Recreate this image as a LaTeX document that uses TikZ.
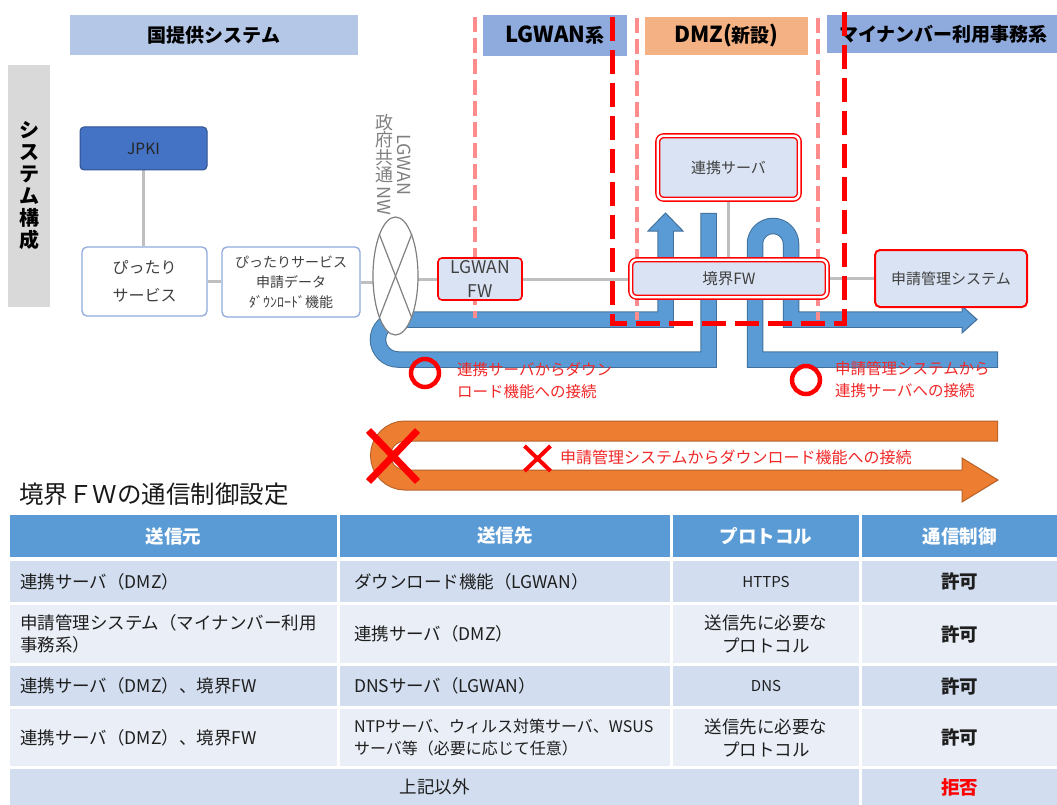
\documentclass[tikz,border=0pt]{standalone}
\usepackage{fontspec}
\setmainfont{Noto Sans CJK JP}
\usepackage{graphicx}
\usetikzlibrary{shapes.geometric,shapes.misc,calc}
\definecolor{hdrA}{HTML}{B4C7E7}
\definecolor{hdrB}{HTML}{8FAADC}
\definecolor{hdrO}{HTML}{F4B183}
\definecolor{sysgray}{HTML}{D9D9D9}
\definecolor{jpkiF}{HTML}{4472C4}
\definecolor{jpkiB}{HTML}{2F528F}
\definecolor{boxB}{HTML}{8FAADC}
\definecolor{boxF}{HTML}{DAE3F3}
\definecolor{connC}{HTML}{BFBFBF}
\definecolor{txt}{HTML}{404040}
\definecolor{tx2}{HTML}{1E1E1E}
\definecolor{pinkd}{HTML}{FF8C8C}
\definecolor{redd}{HTML}{FF0000}
\definecolor{bluF}{HTML}{5B9BD5}
\definecolor{bluB}{HTML}{41719C}
\definecolor{orF}{HTML}{ED7D31}
\definecolor{orB}{HTML}{B5602A}
\definecolor{tHead}{HTML}{5B9BD5}
\definecolor{tOdd}{HTML}{D2DEEF}
\definecolor{tEven}{HTML}{EAEFF7}
\definecolor{lblC}{HTML}{F02828}
\definecolor{nwgray}{HTML}{808080}
\newcommand{\fsz}[2]{\fontsize{#1}{#2}\selectfont}
\newcommand{\bigL}[1]{{\fontsize{22}{22}\selectfont #1}}
\pgfdeclarelayer{back}
\pgfsetlayers{back,main}
\begin{document}
\begin{tikzpicture}[x=1pt,y=-1pt,
  band/.style={inner sep=0pt, outer sep=0pt, font=\fsz{19}{22}\bfseries, text=black},
  wbox/.style={draw=boxB, line width=1.3pt, fill=white, rounded corners=5pt, text=txt, align=center, inner sep=0pt},
  rbox/.style={draw=redd, line width=1.6pt, fill=boxF, rounded corners=4pt, text=txt, align=center, inner sep=0pt},
  dbox/.style={draw=redd, double=white, double distance=2.4pt, line width=1.4pt, fill=boxF, rounded corners=6pt, text=txt, align=center, inner sep=0pt},
  gline/.style={draw=connC, line width=3pt},
  pdash/.style={draw=pinkd, line width=4pt, dash pattern=on 15pt off 6pt},
  rdash/.style={draw=redd, line width=5pt, dash pattern=on 24pt off 9pt, line join=miter},
  lbl/.style={text=lblC, font=\fsz{15.5}{22}, align=left, inner sep=0pt},
  thd/.style={inner sep=0pt, outer sep=0pt, fill=tHead, text=white, font=\fsz{18.5}{20}\bfseries, align=center, minimum height=42pt},
  tcC/.style={inner sep=0pt, outer sep=0pt, align=center, text=tx2, font=\fsz{17.5}{23}},
  tcL/.style={inner xsep=10pt, inner ysep=0pt, outer sep=0pt, align=left, text=tx2, font=\fsz{17.5}{22}},
  okc/.style={circle, draw=redd, line width=4.5pt, minimum size=28pt, inner sep=0pt},
  okt/.style={tcC, font=\fsz{18.5}{20}\bfseries},
]
\useasboundingbox (0,0) rectangle (1057,805);

% ---------- boxes ----------
\node[draw=jpkiB, fill=jpkiF, line width=1pt, rounded corners=4pt, minimum width=127pt, minimum height=43pt, inner sep=0pt, text=black!85, font=\fsz{15.5}{18}] (jpki) at (143.5,148.5) {JPKI};
\node[wbox, minimum width=125pt, minimum height=69pt, font=\fsz{16}{28}] (pitari) at (144.5,281.5) {ぴったり\\サービス};
\node[wbox, minimum width=138pt, minimum height=70pt, font=\fsz{14}{20}] (dl) at (291,282) {ぴったりサービス\\申請データ\\ﾀﾞｳﾝﾛｰﾄﾞ機能};
\node[ellipse, draw=nwgray, line width=1.2pt, fill=white, minimum width=45pt, minimum height=118pt, inner sep=0pt] (nw) at (395.5,276) {};
\draw[nwgray, line width=1.2pt] (nw.north west) -- (nw.south east);
\draw[nwgray, line width=1.2pt] (nw.north east) -- (nw.south west);
\node[text=nwgray, font=\fsz{18}{17.5}, align=center, inner sep=0pt, anchor=north] (nwlbl) at (384,114) {政\\府\\共\\通\\[-13pt]\rotatebox{-90}{NW}};
\node[rotate=-90, text=nwgray, font=\fsz{18}{20}, inner sep=0pt] (lgwanlbl) at (404.5,165) {LGWAN};
\node[rbox, minimum width=84pt, minimum height=42pt, font=\fsz{17.5}{24}] (lgfw) at (480,279) {LGWAN\\FW};
\node[dbox, minimum width=141.5pt, minimum height=63.5pt, font=\fsz{15}{18}] (renkei) at (728.5,167.5) {連携サーバ};
\node[dbox, minimum width=196.5pt, minimum height=37.5pt, font=\fsz{15.5}{18}] (kyfw) at (729,278.5) {境界FW};
\node[rbox, minimum width=152pt, minimum height=57pt, font=\fsz{15}{18}, line width=2pt, rounded corners=5pt] (shinsei) at (951,278.5) {申請管理システム};

% ---------- labels ----------
\node[okc] (ok1) at (425,373) {};
\node[lbl, anchor=west] (lab1) at (457,380.5) {連携サーバからダウン\\ロード機能への接続};
\node[okc] (ok2) at (806,380) {};
\node[lbl, anchor=west] (lab2) at (835,379.5) {申請管理システムから\\連携サーバへの接続};
\node[cross out, draw=redd, line width=7pt, minimum width=42pt, minimum height=44pt, inner sep=0pt] (ngbig) at (393,456) {};
\node[cross out, draw=redd, line width=4pt, minimum width=22pt, minimum height=21pt, inner sep=0pt] (ngsmall) at (537.5,458.5) {};
\node[text=lblC, font=\fsz{16}{18}, anchor=west, inner sep=0pt] (lab3) at (560,457) {申請管理システムからダウンロード機能への接続};

% ---------- title ----------
\node[anchor=west, font=\fsz{24.5}{26}, text=black!90, inner sep=0pt] (title) at (19,494) {境界ＦＷの通信制御設定};

% ---------- table ----------
\node[thd, minimum width=327pt] (h1) at (173.5,536) {送信元};
\node[thd, minimum width=330pt] (h2) at (505,536) {送信先};
\node[thd, minimum width=186pt] (h3) at (766,536) {プロトコル};
\node[thd, minimum width=195pt] (h4) at (959.5,536) {通信制御};

\node[tcL, fill=tOdd, text width=307pt, minimum height=41pt] (r1a) at (173.5,581.5) {連携サーバ（DMZ）};
\node[tcL, inner xsep=14pt, fill=tOdd, text width=302pt, minimum height=41pt] (r1b) at (505,581.5) {ダウンロード機能（LGWAN）};
\node[tcC, fill=tOdd, minimum width=186pt, minimum height=41pt, font=\fsz{15}{16}] (r1c) at (766,581.5) {HTTPS};
\node[okt, fill=tOdd, minimum width=195pt, minimum height=41pt] (r1d) at (959.5,581.5) {許可};

\node[tcL, fill=tEven, text width=307pt, minimum height=58pt] (r2a) at (173.5,634) {申請管理システム（マイナンバー利用\\事務系）};
\node[tcL, inner xsep=14pt, fill=tEven, text width=302pt, minimum height=58pt] (r2b) at (505,634) {連携サーバ（DMZ）};
\node[tcC, fill=tEven, minimum width=186pt, minimum height=58pt] (r2c) at (766,634) {送信先に必要な\\プロトコル};
\node[okt, fill=tEven, minimum width=195pt, minimum height=58pt] (r2d) at (959.5,634) {許可};

\node[tcL, fill=tOdd, text width=307pt, minimum height=40pt] (r3a) at (173.5,686) {連携サーバ（DMZ）、境界FW};
\node[tcL, inner xsep=14pt, fill=tOdd, text width=302pt, minimum height=40pt] (r3b) at (505,686) {DNSサーバ（LGWAN）};
\node[tcC, fill=tOdd, minimum width=186pt, minimum height=40pt, font=\fsz{15}{16}] (r3c) at (766,686) {DNS};
\node[okt, fill=tOdd, minimum width=195pt, minimum height=40pt] (r3d) at (959.5,686) {許可};

\node[tcL, fill=tEven, text width=307pt, minimum height=57pt] (r4a) at (173.5,737.5) {連携サーバ（DMZ）、境界FW};
\node[tcL, inner xsep=14pt, fill=tEven, text width=302pt, minimum height=57pt, font=\fsz{16}{22}] (r4b) at (505,737.5) {NTPサーバ、ウィルス対策サーバ、WSUS\\サーバ等（必要に応じて任意）};
\node[tcC, fill=tEven, minimum width=186pt, minimum height=57pt] (r4c) at (766,737.5) {送信先に必要な\\プロトコル};
\node[okt, fill=tEven, minimum width=195pt, minimum height=57pt] (r4d) at (959.5,737.5) {許可};

\node[tcC, fill=tOdd, minimum width=849pt, minimum height=36pt] (r5a) at (434.5,787) {上記以外};
\node[okt, fill=tOdd, minimum width=195pt, minimum height=36pt, text=redd] (r5d) at (959.5,787) {拒否};

% ---------- background layer ----------
\begin{pgfonlayer}{back}
\node[band, fill=hdrA, minimum width=288pt, minimum height=40pt] (bKuni) at (214,35) {国提供システム};
\node[band, fill=hdrB, minimum width=144pt, minimum height=41pt] (bLg) at (555,35.5) {\bigL{LGWAN}系};
\node[band, fill=hdrO, minimum width=163pt, minimum height=38pt] (bDmz) at (726.5,36) {\bigL{DMZ(}新設\bigL{)}};
\node[band, fill=hdrB, minimum width=233pt, minimum height=38pt] (bMy) at (943.5,34) {マイナンバー利用事務系};
\node[fill=sysgray, minimum width=42pt, minimum height=242pt, inner sep=0pt, font=\fsz{20}{22}\bfseries, align=center] (bSys) at (29,186) {シ\\ス\\テ\\ム\\構\\成};

\draw[gline] (jpki.south) -- (jpki.south |- pitari.north);
\draw[gline] (pitari.east) -- (pitari.east -| dl.west);
\draw[gline] (dl.east) -- (dl.east -| nw.center);
\draw[gline] (nw.center |- lgfw.west) -- (lgfw.west);
\draw[gline] (lgfw.east) -- (lgfw.east -| kyfw.west);
\draw[gline] (kyfw.east) -- (kyfw.east -| shinsei.west);
\draw[gline] (renkei.south) -- (renkei.south |- kyfw.north);

% blue arrow 1
\draw[bluB, line width=16.5pt, line join=miter] (708.5,213) -- (708.5,359.5) -- (398,359.5) .. controls (387,359.5) and (378,350.5) .. (378,339.5) .. controls (378,328.5) and (387,319.5) .. (398,319.5) -- (665.5,319.5) -- (665.5,231);
\filldraw[fill=bluF, draw=bluB, line width=1pt, line join=miter] (648,231) -- (665.5,213) -- (683,231) -- cycle;
\draw[bluF, line width=14.5pt, line join=miter] (708.5,214) -- (708.5,359.5) -- (398,359.5) .. controls (387,359.5) and (378,350.5) .. (378,339.5) .. controls (378,328.5) and (387,319.5) .. (398,319.5) -- (665.5,319.5) -- (665.5,230);
% blue arrow 2
\draw[bluB, line width=16.5pt, line join=miter] (998,359.5) -- (755,359.5) -- (755,244) .. controls (755,234) and (763,226) .. (773,226) .. controls (783,226) and (791,234) .. (791,244) -- (791,319.5) -- (962,319.5);
\filldraw[fill=bluF, draw=bluB, line width=1pt, line join=miter] (962,306) -- (977,319.5) -- (962,333) -- cycle;
\draw[bluF, line width=14.5pt, line join=miter] (997,359.5) -- (755,359.5) -- (755,244) .. controls (755,234) and (763,226) .. (773,226) .. controls (783,226) and (791,234) .. (791,244) -- (791,319.5) -- (963,319.5);
% orange arrow
\draw[orB, line width=21pt] (998,431) -- (405,431) .. controls (391.5,431) and (380.5,442) .. (380.5,455.5) .. controls (380.5,469) and (391.5,480) .. (405,480) -- (962,480);
\filldraw[fill=orF, draw=orB, line width=1pt, line join=miter] (962,458) -- (998,480) -- (962,502) -- cycle;
\draw[orF, line width=19pt] (997,431) -- (405,431) .. controls (391.5,431) and (380.5,442) .. (380.5,455.5) .. controls (380.5,469) and (391.5,480) .. (405,480) -- (963,480);

% dashed boundaries
\draw[pdash] (475,17) -- (475,318);
\draw[pdash] (637,18) -- (637,320);
\draw[pdash] (818,18) -- (818,320);
\draw[rdash] (612,17) -- (612,323) -- (844,323) -- (844,12);
\end{pgfonlayer}
\end{tikzpicture}
\end{document}
